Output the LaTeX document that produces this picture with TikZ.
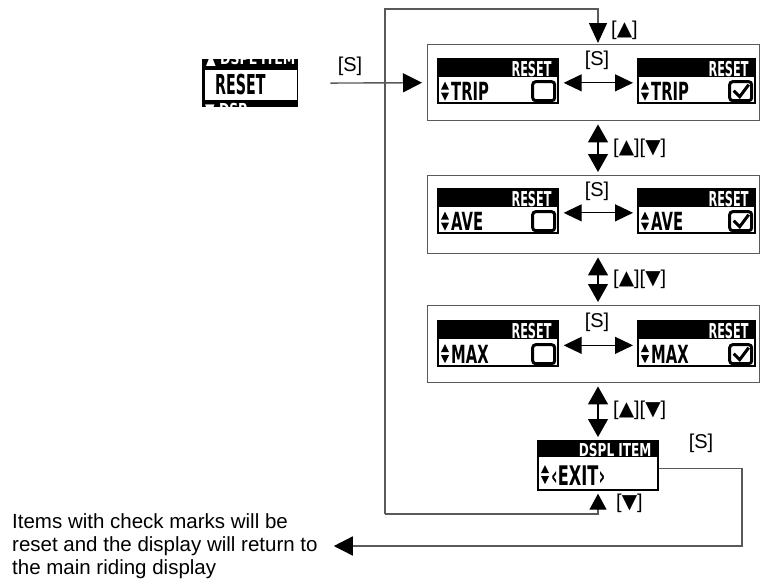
\documentclass[tikz,border=0pt]{standalone}
\usepackage{fontspec}
\usepackage{graphicx}
\setmainfont{Liberation Sans}
\newfontfamily\lcdfont{DejaVu Sans}
\newfontfamily\symfont{DejaVu Sans}
\usetikzlibrary{arrows.meta,calc}
\newcommand\narrow[2]{\scalebox{#1}[1]{#2}}
\tikzset{
 x=1pt, y=-1pt,
 wire/.style={draw=black!65, line width=1.4pt},
 harr/.style={draw=black, line width=1.2pt, {Triangle[length=18pt,width=17pt]}-{Triangle[length=18pt,width=17pt]}},
 varr/.style={draw=black, line width=1.2pt, {Triangle[length=18pt,width=20pt]}-{Triangle[length=18pt,width=20pt]}},
 tipb/.style={-{Triangle[length=19pt,width=19pt,color=black]}},
 panel/.style={draw=black!65, line width=1.4pt, minimum width=332pt, minimum height=76pt, anchor=north west, inner sep=0pt},
 lcdst/.style={draw=black, line width=1.7pt, anchor=north west, inner sep=0pt},
 hdr/.style={text=white, inner sep=0pt, font=\lcdfont\bfseries\fontsize{20.5}{20.5}\selectfont},
 itemst/.style={inner sep=0pt, font=\lcdfont\bfseries\fontsize{25}{25}\selectfont},
 lbl/.style={inner sep=0pt, font=\fontsize{20}{22}\selectfont},
 cbst/.style={draw=black, line width=3pt, rounded corners=3pt},
}
% #1 name, #2 x, #3 y, #4 width, #5 height, #6 header height, #7 header, #8 item
\newcommand\lcd[8]{%
 \node[lcdst, minimum width=#4pt, minimum height=#5pt] (#1) at (#2,#3) {};
 \fill (#1.north west) rectangle ($(#1.north east)+(0,#6)$);
 \node[hdr, anchor=south east] (#1h) at ($(#1.north east)+(-7,#6-0.5)$) {#7};
 \coordinate (#1rc) at ($(#1.south west)+(0,{-(#5-#6)/2})$);
 \fill ($(#1rc)+(4,-1.5)$) -- ++(8,0) -- ++(-4,-8) -- cycle;
 \fill ($(#1rc)+(4,1.5)$) -- ++(8,0) -- ++(-4,8) -- cycle;
 \node[itemst, anchor=west] (#1i) at ($(#1rc)+(14,0.5)$) {#8};
}
\newcommand\cbox[1]{\draw[cbst] ($(#1.south east)+(-26,-22)$) rectangle ($(#1.south east)+(-4,-3)$);}
\newcommand\cmark[1]{\draw[line width=3pt, line join=miter] ($(#1.south east)+(-22,-13)$) -- ($(#1.south east)+(-16,-7)$) -- ($(#1.south east)+(-7,-19)$);}
\begin{document}
\begin{tikzpicture}
\useasboundingbox (0,0) rectangle (760,581);
% panels
\node[panel] (box1) at (427,44) {};
\node[panel, minimum height=78pt] (box2) at (427,175) {};
\node[panel, minimum height=77pt] (box3) at (427,305) {};
% screens
\lcd{a1}{437}{58}{120}{44}{19}{\narrow{0.55}{RESET}}{\narrow{0.59}{TRIP}}\cbox{a1}
\lcd{a2}{637}{58}{117}{44}{19}{\narrow{0.55}{RESET}}{\narrow{0.59}{TRIP}}\cbox{a2}\cmark{a2}
\lcd{b1}{437}{188}{120}{44}{19}{\narrow{0.55}{RESET}}{\narrow{0.59}{AVE}}\cbox{b1}
\lcd{b2}{637}{188}{117}{44}{19}{\narrow{0.55}{RESET}}{\narrow{0.59}{AVE}}\cbox{b2}\cmark{b2}
\lcd{c1}{437}{320}{120}{45}{19}{\narrow{0.55}{RESET}}{\narrow{0.59}{MAX}}\cbox{c1}
\lcd{c2}{637}{320}{117}{45}{19}{\narrow{0.55}{RESET}}{\narrow{0.59}{MAX}}\cbox{c2}\cmark{c2}
\lcd{exit}{537}{440}{120}{49}{17}{\fontsize{17.8}{17.8}\selectfont\narrow{0.68}{DSPL ITEM}}{\fontsize{27}{27}\selectfont\narrow{0.6}{‹EXIT›}}
% first screen
\node[fill=black, minimum width=96pt, minimum height=48pt, anchor=north west, inner sep=0pt] (scr0) at (202,59) {};
\fill[white] ($(scr0.north west)+(3,11)$) rectangle ($(scr0.south east)+(-1.5,-7)$);
\begin{scope}
 \clip (scr0.north west) rectangle ($(scr0.north east)+(0,11)$);
 \node[hdr, anchor=south west, font=\lcdfont\bfseries\fontsize{16.5}{16.5}\selectfont] (scr0t) at ($(scr0.north west)+(4,7.5)$) {\narrow{0.76}{▲ DSPL ITEM}};
\end{scope}
\begin{scope}
 \clip ($(scr0.south west)+(0,-7)$) rectangle (scr0.south east);
 \node[hdr, anchor=north west, font=\lcdfont\bfseries\fontsize{16.5}{16.5}\selectfont] (scr0b) at ($(scr0.south west)+(3,-4.5)$) {\narrow{0.75}{▼ DSP}};
\end{scope}
\node[itemst, anchor=west, font=\lcdfont\bfseries\fontsize{27.4}{27.4}\selectfont] (scr0i) at ($(scr0.west)+(13,1)$) {\narrow{0.52}{RESET}};
% connectors
\coordinate (ax) at (598,0);
\coordinate (lt) at (385,9);
\coordinate (lb) at (385,514);
\coordinate (er) at (742,0);
\draw[wire, tipb, shorten <=32pt, shorten >=5pt] (scr0.east) -- (box1.west);
\node[lbl] (s0) at (350,66) {[S]};
\draw[wire, -{Triangle[length=20pt,width=18pt,color=black]}, shorten >=1pt] (lb) -- (lt) -| (ax |- box1.north);
\node[lbl, anchor=west] (lup) at (611,30) {[{\symfont ▲}]};
\draw[harr, shorten <=5pt, shorten >=4pt] ([yshift=-2pt]a1.east) -- ([yshift=-2pt]a2.west);
\draw[harr, shorten <=5pt, shorten >=4pt] ([yshift=-2pt]b1.east) -- ([yshift=-2pt]b2.west);
\draw[harr, shorten <=5pt, shorten >=4pt] ([yshift=-2pt]c1.east) -- ([yshift=-2pt]c2.west);
\node[lbl] (sa) at (597,60) {[S]};
\node[lbl] (sb) at (597,191) {[S]};
\node[lbl] (sc) at (597,322) {[S]};
\draw[varr, shorten <=3pt, shorten >=3pt] (ax |- box1.south) -- (ax |- box2.north);
\draw[varr, shorten <=3pt, shorten >=3pt] (ax |- box2.south) -- (ax |- box3.north);
\draw[varr, shorten <=3pt, shorten >=3pt] (ax |- box3.south) -- (ax |- exit.north);
\node[lbl, anchor=west] (l1) at (613,148) {[{\symfont ▲}][{\symfont ▼}]};
\node[lbl, anchor=west] (l2) at (613,279) {[{\symfont ▲}][{\symfont ▼}]};
\node[lbl, anchor=west] (l3) at (613,410) {[{\symfont ▲}][{\symfont ▼}]};
\draw[wire, -{Triangle[length=16pt,width=17pt,color=black]}, shorten >=3pt] (lb) -| (ax |- exit.south);
\node[lbl, anchor=west] (ldn) at (616,503) {[{\symfont ▼}]};
\node[lbl] (sx) at (701,443) {[S]};
\node[anchor=west, align=left, inner sep=0pt, font=\fontsize{20.5}{23}\selectfont] (txt) at (12,546) {Items with check marks will be\\reset and the display will return to\\the main riding display};
\coordinate (rt) at ([xshift=16pt]txt.east);
\draw[wire, tipb] ([yshift=-3pt]exit.east) -| (er |- txt.east) -- (rt);
\end{tikzpicture}
\end{document}
